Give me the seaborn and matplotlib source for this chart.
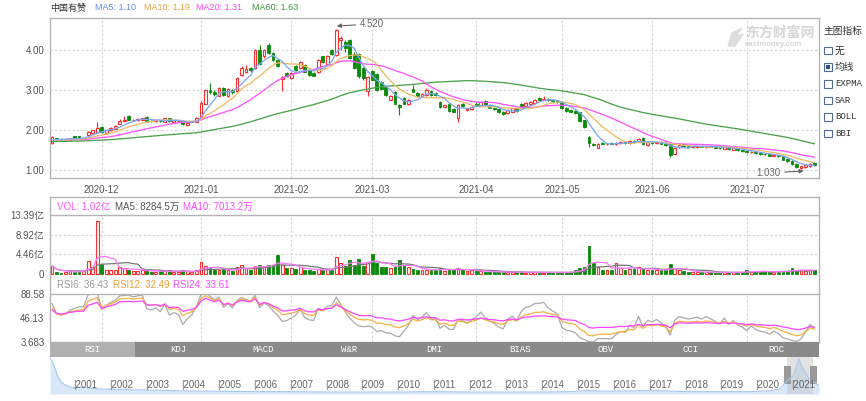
import numpy as np
import pandas as pd
import matplotlib
matplotlib.use("Agg")
import matplotlib.pyplot as plt
from matplotlib.patches import Rectangle, Polygon
import seaborn as sns

# ---------------- data ----------------
stock_name = "中国有赞"
month_labels = ["2020-12", "2021-01", "2021-02", "2021-03", "2021-04", "2021-05", "2021-06", "2021-07"]
days_per_month = [11, 22, 20, 18, 23, 19, 20, 21, 16]   # trading days, Nov(part) .. Jul(part)

# closes before the visible window, only used to warm up the moving averages
pre_closes = [1.62, 1.64, 1.66, 1.65, 1.63, 1.60, 1.62, 1.64, 1.67, 1.66,
              1.68, 1.70, 1.69, 1.66, 1.64, 1.62, 1.63, 1.65, 1.68, 1.70,
              1.69, 1.67, 1.65, 1.66, 1.68, 1.71, 1.73, 1.72, 1.70, 1.68,
              1.70, 1.72, 1.74, 1.75, 1.73, 1.71, 1.72, 1.74, 1.76, 1.78,
              1.77, 1.75, 1.74, 1.76, 1.78, 1.80, 1.79, 1.77, 1.75, 1.74,
              1.73, 1.75, 1.77, 1.76, 1.74, 1.72, 1.73, 1.75, 1.74, 1.72]

opens = [1.68, 1.79, 1.77, 1.76, 1.76, 1.85, 1.84, 1.80, 1.87, 1.93,
         1.96, 2.08, 1.92, 2.00, 2.03, 2.15, 2.22, 2.36, 2.24, 2.24,
         2.26, 2.32, 2.23, 2.22, 2.23, 2.21, 2.30, 2.21, 2.22, 2.22,
         2.13, 2.20, 2.21, 2.32, 2.66, 3.00, 2.96, 2.86, 3.06, 2.85,
         3.00, 2.98, 3.38, 3.45, 3.54, 3.55, 4.00, 3.84, 4.12, 3.92,
         3.74, 3.28, 3.42, 3.30, 3.60, 3.55, 3.62, 3.50, 3.42, 3.45,
         3.84, 3.66, 4.00, 3.88, 4.25, 4.20, 4.25, 3.90, 3.90, 3.55,
         2.98, 3.48, 3.40, 3.20, 3.08, 2.76, 2.96, 2.62, 2.80, 2.64,
         3.02, 2.92, 2.84, 2.88, 2.98, 2.92, 2.70, 2.58, 2.66, 2.52,
         2.30, 2.66, 2.50, 2.52, 2.64, 2.62, 2.72, 2.62, 2.56, 2.52,
         2.46, 2.42, 2.46, 2.54, 2.66, 2.60, 2.64, 2.68, 2.80, 2.76,
         2.78, 2.74, 2.72, 2.68, 2.56, 2.50, 2.48, 2.44, 2.24, 1.82,
         1.66, 1.56, 1.68, 1.64, 1.68, 1.64, 1.68, 1.70, 1.68, 1.72,
         1.72, 1.80, 1.62, 1.70, 1.68, 1.70, 1.66, 1.64, 1.40, 1.58,
         1.64, 1.60, 1.57, 1.58, 1.60, 1.58, 1.60, 1.58, 1.56, 1.53,
         1.57, 1.51, 1.54, 1.50, 1.48, 1.44, 1.46, 1.42, 1.40, 1.40,
         1.35, 1.37, 1.36, 1.28, 1.22, 1.16, 1.06, 1.08, 1.10, 1.18]

highs = [1.84, 1.81, 1.79, 1.79, 1.80, 1.86, 1.86, 1.82, 1.97, 2.00,
         2.20, 2.10, 2.01, 2.07, 2.12, 2.27, 2.35, 2.38, 2.27, 2.29,
         2.31, 2.34, 2.25, 2.26, 2.25, 2.31, 2.31, 2.25, 2.25, 2.23,
         2.20, 2.23, 2.33, 2.72, 3.02, 3.17, 3.00, 3.08, 3.08, 3.06,
         3.02, 3.32, 3.60, 3.62, 3.58, 4.02, 4.13, 4.02, 4.17, 3.95,
         3.78, 3.36, 3.45, 3.45, 3.63, 3.72, 3.64, 3.52, 3.45, 3.78,
         3.86, 3.88, 4.02, 4.52, 4.35, 4.25, 4.28, 3.95, 3.92, 3.58,
         3.35, 3.50, 3.42, 3.22, 3.10, 2.88, 2.98, 2.64, 2.82, 2.77,
         3.12, 2.94, 2.92, 3.04, 3.00, 2.94, 2.72, 2.63, 2.68, 2.54,
         2.64, 2.68, 2.55, 2.60, 2.70, 2.72, 2.74, 2.64, 2.58, 2.54,
         2.48, 2.52, 2.56, 2.56, 2.68, 2.70, 2.72, 2.78, 2.82, 2.84,
         2.80, 2.78, 2.76, 2.70, 2.58, 2.52, 2.50, 2.46, 2.26, 1.84,
         1.68, 1.68, 1.70, 1.68, 1.70, 1.69, 1.72, 1.72, 1.74, 1.74,
         1.80, 1.82, 1.72, 1.72, 1.71, 1.72, 1.68, 1.66, 1.58, 1.63,
         1.65, 1.62, 1.60, 1.61, 1.62, 1.61, 1.62, 1.60, 1.58, 1.58,
         1.58, 1.55, 1.56, 1.52, 1.50, 1.48, 1.47, 1.44, 1.42, 1.41,
         1.38, 1.38, 1.37, 1.30, 1.24, 1.17, 1.10, 1.14, 1.18, 1.19]

lows = [1.66, 1.75, 1.74, 1.74, 1.75, 1.79, 1.79, 1.78, 1.85, 1.92,
        1.94, 1.92, 1.90, 1.98, 2.02, 2.14, 2.20, 2.24, 2.22, 2.22,
        2.25, 2.21, 2.20, 2.21, 2.20, 2.20, 2.20, 2.20, 2.21, 2.12,
        2.11, 2.19, 2.20, 2.31, 2.64, 2.90, 2.86, 2.84, 2.86, 2.82,
        2.90, 2.96, 3.36, 3.42, 3.46, 3.53, 3.63, 3.80, 3.90, 3.72,
        3.58, 2.98, 3.32, 3.28, 3.48, 3.52, 3.44, 3.36, 3.34, 3.42,
        3.68, 3.63, 3.88, 3.85, 4.00, 3.95, 3.78, 3.52, 3.30, 3.26,
        2.85, 3.24, 2.97, 3.00, 2.86, 2.74, 2.64, 2.37, 2.64, 2.62,
        2.94, 2.82, 2.82, 2.86, 2.86, 2.86, 2.55, 2.56, 2.45, 2.44,
        2.20, 2.58, 2.48, 2.50, 2.60, 2.60, 2.60, 2.54, 2.50, 2.42,
        2.38, 2.40, 2.44, 2.46, 2.58, 2.58, 2.62, 2.66, 2.74, 2.74,
        2.72, 2.70, 2.68, 2.52, 2.46, 2.44, 2.40, 2.20, 2.06, 1.58,
        1.60, 1.55, 1.64, 1.62, 1.64, 1.63, 1.66, 1.66, 1.66, 1.68,
        1.70, 1.62, 1.60, 1.66, 1.66, 1.64, 1.60, 1.32, 1.38, 1.56,
        1.58, 1.56, 1.55, 1.56, 1.57, 1.56, 1.57, 1.55, 1.53, 1.52,
        1.50, 1.50, 1.48, 1.46, 1.42, 1.42, 1.40, 1.38, 1.37, 1.35,
        1.34, 1.33, 1.24, 1.20, 1.12, 1.05, 1.03, 1.06, 1.08, 1.10]

closes = [1.82, 1.77, 1.76, 1.77, 1.79, 1.80, 1.81, 1.81, 1.95, 1.99,
          2.05, 1.95, 2.00, 2.05, 2.10, 2.23, 2.24, 2.26, 2.25, 2.28,
          2.30, 2.23, 2.22, 2.24, 2.22, 2.29, 2.22, 2.24, 2.23, 2.14,
          2.18, 2.21, 2.30, 2.68, 3.00, 2.94, 2.89, 3.05, 2.88, 3.03,
          2.95, 3.30, 3.56, 3.52, 3.49, 4.00, 3.66, 4.00, 3.92, 3.74,
          3.60, 3.32, 3.35, 3.42, 3.50, 3.70, 3.46, 3.38, 3.36, 3.75,
          3.70, 3.86, 3.90, 4.50, 4.30, 4.05, 3.80, 3.55, 3.35, 3.30,
          3.32, 3.26, 3.00, 3.02, 2.88, 2.86, 2.66, 2.58, 2.66, 2.75,
          2.96, 2.84, 2.90, 3.00, 2.88, 2.88, 2.57, 2.62, 2.47, 2.46,
          2.62, 2.60, 2.53, 2.58, 2.62, 2.70, 2.62, 2.56, 2.52, 2.44,
          2.40, 2.50, 2.54, 2.48, 2.60, 2.68, 2.70, 2.76, 2.76, 2.78,
          2.74, 2.72, 2.70, 2.54, 2.48, 2.46, 2.42, 2.22, 2.08, 1.68,
          1.62, 1.66, 1.66, 1.66, 1.65, 1.68, 1.70, 1.68, 1.72, 1.70,
          1.78, 1.64, 1.70, 1.68, 1.70, 1.66, 1.62, 1.38, 1.56, 1.62,
          1.60, 1.58, 1.59, 1.60, 1.58, 1.60, 1.58, 1.56, 1.54, 1.57,
          1.52, 1.54, 1.50, 1.48, 1.44, 1.46, 1.42, 1.40, 1.39, 1.36,
          1.37, 1.34, 1.26, 1.22, 1.14, 1.08, 1.09, 1.12, 1.16, 1.12]

# volume in 亿
volumes = [1.8, 0.4, 0.3, 0.5, 0.6, 0.5, 0.6, 0.7, 3.0, 1.7,
           12.0, 2.2, 1.0, 1.0, 0.8, 1.7, 1.4, 1.0, 0.6, 0.7,
           0.8, 0.9, 0.5, 0.4, 0.6, 0.7, 0.9, 0.5, 0.4, 0.8,
           0.6, 0.5, 0.8, 2.7, 1.9, 1.3, 0.9, 1.0, 1.1, 0.8,
           0.7, 1.5, 2.1, 1.4, 1.0, 1.8, 2.0, 1.9, 2.1, 2.0,
           4.4, 2.0, 1.3, 1.4, 1.2, 1.5, 1.0, 0.9, 0.6, 1.2,
           1.0, 1.1, 0.9, 3.9, 2.5, 1.8, 3.1, 2.0, 3.3, 1.8,
           2.7, 4.6, 2.4, 1.6, 1.5, 1.4, 1.7, 3.2, 2.0, 1.5,
           1.2, 1.0, 0.9, 1.0, 0.8, 0.9, 1.3, 0.7, 1.2, 1.0,
           1.4, 0.9, 0.7, 0.8, 0.6, 0.7, 0.5, 0.5, 0.4, 0.5,
           0.4, 0.4, 0.5, 0.4, 0.4, 0.3, 0.4, 0.5, 0.3, 0.3,
           0.4, 0.3, 0.3, 0.4, 0.4, 0.5, 0.9, 1.3, 1.6, 6.4,
           2.6, 1.5, 1.0, 0.9, 0.8, 2.6, 1.3, 1.0, 1.2, 1.1,
           1.5, 1.2, 1.0, 0.9, 0.8, 0.9, 1.0, 2.2, 1.3, 0.8,
           0.6, 0.5, 0.4, 0.4, 0.5, 0.4, 0.4, 0.3, 0.3, 0.4,
           0.3, 0.4, 0.3, 0.4, 1.0, 0.5, 0.6, 0.5, 0.5, 0.6,
           0.4, 0.5, 0.6, 0.7, 1.4, 0.7, 1.0, 0.6, 0.8, 1.02]

ma_labels = ["MA5: 1.10", "MA10: 1.19", "MA20: 1.31", "MA60: 1.63"]
vol_labels = ["VOL: 1.02亿", "MA5: 8284.5万", "MA10: 7013.2万"]
rsi_labels = ["RSI6: 36.43", "RSI12: 32.49", "RSI24: 33.61"]
vol_ticks = [0, 4.46, 8.92, 13.39]
vol_tick_labels = ["0", "4.46亿", "8.92亿", "13.39亿"]
rsi_ticks = [3.683, 46.13, 88.58]
rsi_tick_labels = ["3.683", "46.13", "88.58"]
tab_names = ["RSI", "KDJ", "MACD", "W&R", "DMI", "BIAS", "OBV", "CCI", "ROC"]
indicator_title = "主图指标"
indicator_names = ["无", "均线", "EXPMA", "SAR", "BOLL", "BBI"]
high_note, low_note = "4.520", "1.030"

# whole-history navigator
nav_years = [2000.3, 2000.4, 2000.5, 2000.6, 2000.7, 2000.85, 2001.0, 2001.2, 2001.4, 2001.7,
             2002.0, 2002.5, 2003.0, 2003.5, 2004.0, 2005.0, 2006.0, 2007.0, 2008.0, 2009.0,
             2010.0, 2011.0, 2012.0, 2013.0, 2014.0, 2014.8, 2015.3, 2015.8, 2016.5, 2017.0,
             2017.5, 2018.0, 2019.0, 2019.8, 2020.3, 2020.6, 2020.85, 2021.0, 2021.1, 2021.15,
             2021.25, 2021.35, 2021.45, 2021.55, 2021.72]
nav_prices = [4.6, 3.8, 2.4, 1.6, 1.2, 0.9, 0.8, 0.9, 0.75, 0.65,
              0.6, 0.55, 0.5, 0.45, 0.4, 0.35, 0.3, 0.3, 0.25, 0.25,
              0.25, 0.3, 0.25, 0.25, 0.25, 0.3, 0.45, 0.35, 0.4, 0.45,
              0.4, 0.3, 0.3, 0.3, 0.4, 0.6, 1.7, 2.3, 3.6, 4.5,
              3.4, 2.7, 1.8, 1.6, 1.1]
nav_year_labels = list(range(2001, 2022))

# ---------------- derived series ----------------
o = np.array(opens); h = np.array(highs); l = np.array(lows); c = np.array(closes)
vol = np.array(volumes)
n = len(c)
idx = np.arange(n)
npre = len(pre_closes)
allc = pd.Series(pre_closes + closes)
ma = {w: allc.rolling(w, min_periods=1).mean().values[npre:] for w in (5, 10, 20, 60)}
d = allc.diff().fillna(0)
rsi = {}
for w in (6, 12, 24):
    up_ = d.clip(lower=0).ewm(alpha=1 / w, adjust=False).mean()
    ab_ = d.abs().ewm(alpha=1 / w, adjust=False).mean()
    rsi[w] = (up_ / ab_ * 100).values[npre:]
vma5 = pd.Series(vol).rolling(5, min_periods=1).mean().values
vma10 = pd.Series(vol).rolling(10, min_periods=1).mean().values
month_pos = np.cumsum(days_per_month)[:-1]

# ---------------- styling ----------------
sns.set_theme(style="white")
plt.rcParams['font.family'] = ['Liberation Sans', 'Noto Sans CJK SC']
plt.rcParams['axes.linewidth'] = 1.0

RED = "#ff2d2d"
GREEN = "#0a8a0a"
C_MA5, C_MA10, C_MA20, C_MA60 = "#7ea6f4", "#eebb66", "#ff55ff", "#4aa44a"
BORDER = "#b4b4b4"
TXT = "#555555"
GRID = dict(color="#d4d4d4", lw=0.8, ls=(0, (2, 2)))

W, H = 866, 401
fig = plt.figure(figsize=(W / 100, H / 100), dpi=100, facecolor="white")


def px_axes(left, top, right, bottom):
    return fig.add_axes([left / W, 1 - bottom / H, (right - left) / W, (bottom - top) / H])


def ftext(x, y, s, **kw):
    kw.setdefault("va", "center")
    kw.setdefault("fontsize", 7)
    fig.text(x / W, 1 - y / H, s, **kw)


XLIM = (-0.45, 170.0)
up = c >= o
dn = ~up

# ---------------- main candle chart ----------------
ax = px_axes(50, 18, 819, 178)
for v in month_pos:
    ax.axvline(v, zorder=0, **GRID)
for v in [1, 2, 3, 4]:
    ax.axhline(v, zorder=0, **GRID)
ax.vlines(idx[up], l[up], h[up], color=RED, lw=0.8, zorder=2)
ax.vlines(idx[dn], l[dn], h[dn], color=GREEN, lw=0.8, zorder=2)
ax.bar(idx[up], np.maximum(c - o, 0.008)[up], bottom=o[up], width=0.62,
       facecolor="white", edgecolor=RED, linewidth=0.8, zorder=3)
ax.bar(idx[dn], np.maximum(o - c, 0.008)[dn], bottom=c[dn], width=0.62,
       facecolor=GREEN, edgecolor=GREEN, linewidth=0.6, zorder=3)
for w, col in zip((60, 20, 10, 5), (C_MA60, C_MA20, C_MA10, C_MA5)):
    sns.lineplot(x=idx, y=ma[w], ax=ax, color=col, lw=0.95, zorder=4)
ax.set_xlim(*XLIM)
ax.set_ylim(0.8, 4.8)
ax.set_yticks([1, 2, 3, 4])
ax.set_yticklabels(["1.00", "2.00", "3.00", "4.00"])
ax.set_xticks(month_pos)
ax.set_xticklabels(month_labels)
ax.tick_params(axis="both", length=0, labelsize=7, labelcolor=TXT)
ax.tick_params(axis="x", pad=5)
ax.tick_params(axis="y", pad=4)
for s in ax.spines.values():
    s.set_color(BORDER)
imax = int(np.argmax(h)); imin = int(np.argmin(l))
ax.annotate(high_note, xy=(imax + 0.1, 4.6), xytext=(68.3, 4.65), fontsize=7, color="#666666",
            va="center", ha="left",
            arrowprops=dict(arrowstyle="-|>", color="#666666", lw=0.8, mutation_scale=6, shrinkA=1, shrinkB=0))
ax.annotate(low_note, xy=(imin + 0.6, 0.975), xytext=(161.4, 0.925), fontsize=7, color="#666666",
            va="center", ha="right",
            arrowprops=dict(arrowstyle="-|>", color="#666666", lw=0.8, mutation_scale=6, shrinkA=1, shrinkB=0))

# header line
ftext(50, 8, stock_name, color="#333333", fontsize=6.5)
for xx, s, col in zip((95, 144, 196, 252), ma_labels, ("#5f8ff0", "#e0a040", "#ff44ff", "#3c9a3c")):
    ftext(xx, 8, s, color=col, fontsize=6.5)

# watermark
fig.add_artist(Polygon([(728 / W, 1 - 46 / H), (732 / W, 1 - 33 / H), (742 / W, 1 - 28 / H),
                        (736 / W, 1 - 36 / H), (743 / W, 1 - 34 / H), (735 / W, 1 - 46 / H)],
                       closed=True, transform=fig.transFigure, color="#dddddd", zorder=10))
ftext(745, 33, "东方财富网", color="#d6d6d6", fontsize=10, fontweight="bold")
ftext(745, 44, "eastmoney.com", color="#d6d6d6", fontsize=5.5, fontweight="bold")

# right side indicator list
ftext(823, 31, indicator_title, color="#333333")
for k, name in enumerate(indicator_names):
    yc = 50.5 + k * 16.6
    fig.add_artist(Rectangle((824 / W, 1 - (yc + 3.8) / H), 7.5 / W, 7.5 / H, transform=fig.transFigure,
                             fill=True, facecolor="white", edgecolor="#4d6c9c", lw=0.8))
    if k == 1:
        fig.add_artist(Rectangle((826 / W, 1 - (yc + 1.8) / H), 3.5 / W, 3.5 / H, transform=fig.transFigure,
                                 color="#2f4f8a", lw=0))
    fam = ['Liberation Mono', 'Noto Sans CJK SC'] if k >= 2 else ['Noto Sans CJK SC']
    ftext(835, yc, name, color="#333333", family=fam, fontsize=6.5 if k >= 2 else 7)

# ---------------- volume + RSI panel ----------------
box = px_axes(50, 197, 819, 342)
box.set_xticks([]); box.set_yticks([])
for s in box.spines.values():
    s.set_color(BORDER)

axv = px_axes(50, 215, 819, 277)
axv.patch.set_alpha(0)
for v in month_pos:
    axv.axvline(v, zorder=0, **GRID)
for v in vol_ticks[1:3]:
    axv.axhline(v, zorder=0, **GRID)
axv.bar(idx[up], vol[up], width=0.62, facecolor="white", edgecolor=RED, linewidth=0.8, zorder=2)
axv.bar(idx[dn], vol[dn], width=0.62, facecolor=GREEN, edgecolor=GREEN, linewidth=0.6, zorder=2)
sns.lineplot(x=idx, y=vma10, ax=axv, color="#777777", lw=0.9, zorder=3)
sns.lineplot(x=idx, y=vma5, ax=axv, color="#ff77ff", lw=0.9, zorder=3)
axv.set_xlim(*XLIM)
axv.set_ylim(-0.68, 13.39)
axv.set_yticks(vol_ticks)
axv.set_yticklabels(vol_tick_labels)
axv.set_xticks([])
axv.tick_params(axis="y", length=0, labelsize=7, labelcolor=TXT, pad=4)
for k, s in axv.spines.items():
    s.set_visible(k == "top")
    s.set_color(BORDER)
ftext(57, 207, vol_labels[0], color="#ff55ff")
ftext(115, 207, vol_labels[1], color="#555555")
ftext(183, 207, vol_labels[2], color="#ff44ff")

axr = px_axes(50, 294, 819, 342)
axr.patch.set_alpha(0)
for v in month_pos:
    axr.axvline(v, zorder=0, **GRID)
sns.lineplot(x=idx, y=rsi[6], ax=axr, color="#aaaaaa", lw=0.9)
sns.lineplot(x=idx, y=rsi[12], ax=axr, color="#f5b041", lw=0.9)
sns.lineplot(x=idx, y=rsi[24], ax=axr, color="#ff44ff", lw=0.9)
axr.set_xlim(*XLIM)
axr.set_ylim(rsi_ticks[0], rsi_ticks[-1])
axr.set_yticks(rsi_ticks)
axr.set_yticklabels(rsi_tick_labels)
axr.set_xticks([])
axr.tick_params(axis="y", length=0, labelsize=7, labelcolor=TXT, pad=4)
for k, s in axr.spines.items():
    s.set_visible(k == "top")
    s.set_color(BORDER)
ftext(57, 285, rsi_labels[0], color="#999999")
ftext(113, 285, rsi_labels[1], color="#f0a030")
ftext(173, 285, rsi_labels[2], color="#ff44ff")

# ---------------- indicator tabs ----------------
axt = px_axes(50, 342, 819, 357)
axt.set_xlim(0, len(tab_names)); axt.set_ylim(0, 1)
axt.set_facecolor("#8a8a8a")
axt.add_patch(Rectangle((0, 0), 1, 1, color="#b0b0b0", lw=0))
for k, name in enumerate(tab_names):
    axt.text(k + 0.5, 0.5, name, ha="center", va="center", color="white", fontsize=6.5,
             family="Liberation Mono")
axt.set_xticks([]); axt.set_yticks([])
for s in axt.spines.values():
    s.set_visible(False)

# ---------------- navigator ----------------
axn = px_axes(50, 357, 819, 394)
axn.fill_between(nav_years, nav_prices, 0, color="#d9e8f8", lw=0)
sns.lineplot(x=nav_years, y=nav_prices, ax=axn, color="#a9c7ee", lw=0.8)
axn.set_xlim(2000.30, 2021.72)
axn.set_ylim(0, 4.7)
axn.add_patch(Rectangle((2020.83, 0), 0.72, 4.7, color="#c0c0c0", alpha=0.45, lw=0))
axn.add_patch(Rectangle((2020.75, 4.7 * 0.27), 0.19, 4.7 * 0.48, color="#9a9a9a", lw=0))
axn.add_patch(Rectangle((2021.47, 4.7 * 0.27), 0.19, 4.7 * 0.48, color="#9a9a9a", lw=0))
for yr in nav_year_labels:
    axn.text(yr - 0.05, 4.7 * 0.24, "|" + str(yr), ha="left", va="center", fontsize=7, color="#666666")
axn.set_xticks([]); axn.set_yticks([])
for s in axn.spines.values():
    s.set_visible(False)

fig.savefig("out.png", dpi=100, facecolor="white")
